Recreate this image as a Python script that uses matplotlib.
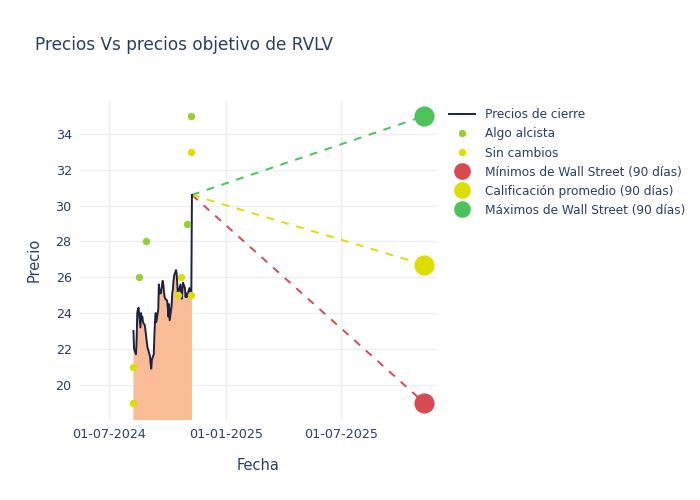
import matplotlib
matplotlib.use("Agg")
import matplotlib.pyplot as plt
import matplotlib.dates as mdates
import pandas as pd

price_dates = ["2024-08-08","2024-08-09","2024-08-12","2024-08-13","2024-08-14","2024-08-15","2024-08-16",
               "2024-08-19","2024-08-20","2024-08-21","2024-08-22","2024-08-23","2024-08-26","2024-08-27",
               "2024-08-28","2024-08-29","2024-08-30","2024-09-03","2024-09-04","2024-09-05","2024-09-06",
               "2024-09-09","2024-09-10","2024-09-11","2024-09-12","2024-09-13","2024-09-16","2024-09-17",
               "2024-09-18","2024-09-19","2024-09-20","2024-09-23","2024-09-24","2024-09-25","2024-09-26",
               "2024-09-27","2024-09-30","2024-10-01","2024-10-02","2024-10-03","2024-10-04","2024-10-07",
               "2024-10-08","2024-10-09","2024-10-10","2024-10-11","2024-10-14","2024-10-15","2024-10-16",
               "2024-10-17","2024-10-18","2024-10-21","2024-10-22","2024-10-23","2024-10-24","2024-10-25",
               "2024-10-28","2024-10-29","2024-10-30","2024-10-31","2024-11-01","2024-11-04","2024-11-05",
               "2024-11-06","2024-11-07","2024-11-08"]
price_values = [23.0, 22.0, 21.7, 22.5, 24.0, 24.2, 24.3,
                23.2, 24.0, 23.6, 23.8, 23.5, 23.3, 23.0,
                22.7, 22.4, 22.1, 21.6, 21.2, 20.9, 21.4,
                21.7, 22.8, 23.6, 24.0, 23.5, 24.2, 25.6,
                25.1, 25.3, 25.1, 25.8, 25.6, 25.2, 24.9,
                24.8, 24.7, 24.3, 23.8, 24.5, 23.6, 24.4,
                25.1, 25.3, 25.8, 26.1, 26.4, 26.2, 25.6,
                24.9, 25.2, 25.6, 25.1, 24.8, 25.3, 25.7,
                25.4, 24.9, 25.1, 24.9, 25.0, 25.4, 25.0,
                24.9, 25.0, 30.6]

bull_dates = ["2024-08-16", "2024-08-27", "2024-10-31", "2024-11-07"]
bull_values = [26.0, 28.0, 29.0, 35.0]

hold_dates = ["2024-08-07", "2024-08-07", "2024-10-17", "2024-10-22", "2024-11-07", "2024-11-07"]
hold_values = [21.0, 19.0, 25.0, 26.0, 33.0, 25.0]

target_date = "2025-11-08"
target_low = 19.0
target_avg = 26.7
target_high = 35.0

title = "Precios Vs precios objetivo de RVLV"
text_color = "#2a3f5f"
grid_color = "#EBEEF5"

pdates = pd.to_datetime(price_dates)
tdate = pd.Timestamp(target_date)
last_date = pdates[-1]
last_price = price_values[-1]

fig = plt.figure(figsize=(7, 5), dpi=100)
ax = fig.add_axes([0.1143, 0.16, 0.624 - 0.1143, 0.64])

ax.fill_between(pdates, price_values, 0, color="#F9BC96", lw=0, zorder=1)
ax.plot(pdates, price_values, color="#1B2340", lw=1.4, zorder=3, label="Precios de cierre")
ax.plot(pd.to_datetime(bull_dates), bull_values, "o", color="#9ACD32", ms=4.3, lw=0, zorder=4, label="Algo alcista")
ax.plot(pd.to_datetime(hold_dates), hold_values, "o", color="#DDDD00", ms=4.3, lw=0, zorder=4, label="Sin cambios")

ax.plot([last_date, tdate], [last_price, target_low], "--", color="#D64A50", lw=1.4, dashes=(4, 4), zorder=2)
ax.plot([last_date, tdate], [last_price, target_avg], "--", color="#DDDD00", lw=1.4, dashes=(4, 4), zorder=2)
ax.plot([last_date, tdate], [last_price, target_high], "--", color="#4CC25A", lw=1.4, dashes=(4, 4), zorder=2)
ax.plot([tdate], [target_low], "o", color="#D64A50", ms=13.5, zorder=5, label="Mínimos de Wall Street (90 días)")
ax.plot([tdate], [target_avg], "o", color="#DDDD00", ms=13.5, zorder=5, label="Calificación promedio (90 días)")
ax.plot([tdate], [target_high], "o", color="#4CC25A", ms=13.5, zorder=5, label="Máximos de Wall Street (90 días)")

ax.set_xlim(pd.Timestamp("2024-05-16"), pd.Timestamp("2025-11-28"))
ax.set_ylim(18.03, 35.9)
ax.set_yticks([20, 22, 24, 26, 28, 30, 32, 34])
ax.set_xticks(pd.to_datetime(["2024-07-01", "2025-01-01", "2025-07-01"]))
ax.xaxis.set_major_formatter(mdates.DateFormatter("%d-%m-%Y"))

ax.grid(True, color=grid_color, lw=1)
ax.set_axisbelow(True)
for s in ax.spines.values():
    s.set_visible(False)
ax.tick_params(length=0, colors=text_color, labelsize=9.2, pad=6)
ax.set_xlabel("Fecha", color=text_color, fontsize=10.5, labelpad=12)
ax.set_ylabel("Precio", color=text_color, fontsize=10.5, labelpad=10)

fig.text(0.05, 0.91, title, color=text_color, fontsize=12.2, ha="left", va="center")

leg = ax.legend(loc="upper left", bbox_to_anchor=(1.01, 1.0), frameon=False, fontsize=8.7,
                labelcolor=text_color, handlelength=2.2, borderaxespad=0.3, labelspacing=0.5,
                markerscale=1.0)
for h in leg.legend_handles[1:3]:
    h.set_markersize(4.3)
for h in leg.legend_handles[3:]:
    h.set_markersize(11)

fig.savefig("out.png", dpi=100)
